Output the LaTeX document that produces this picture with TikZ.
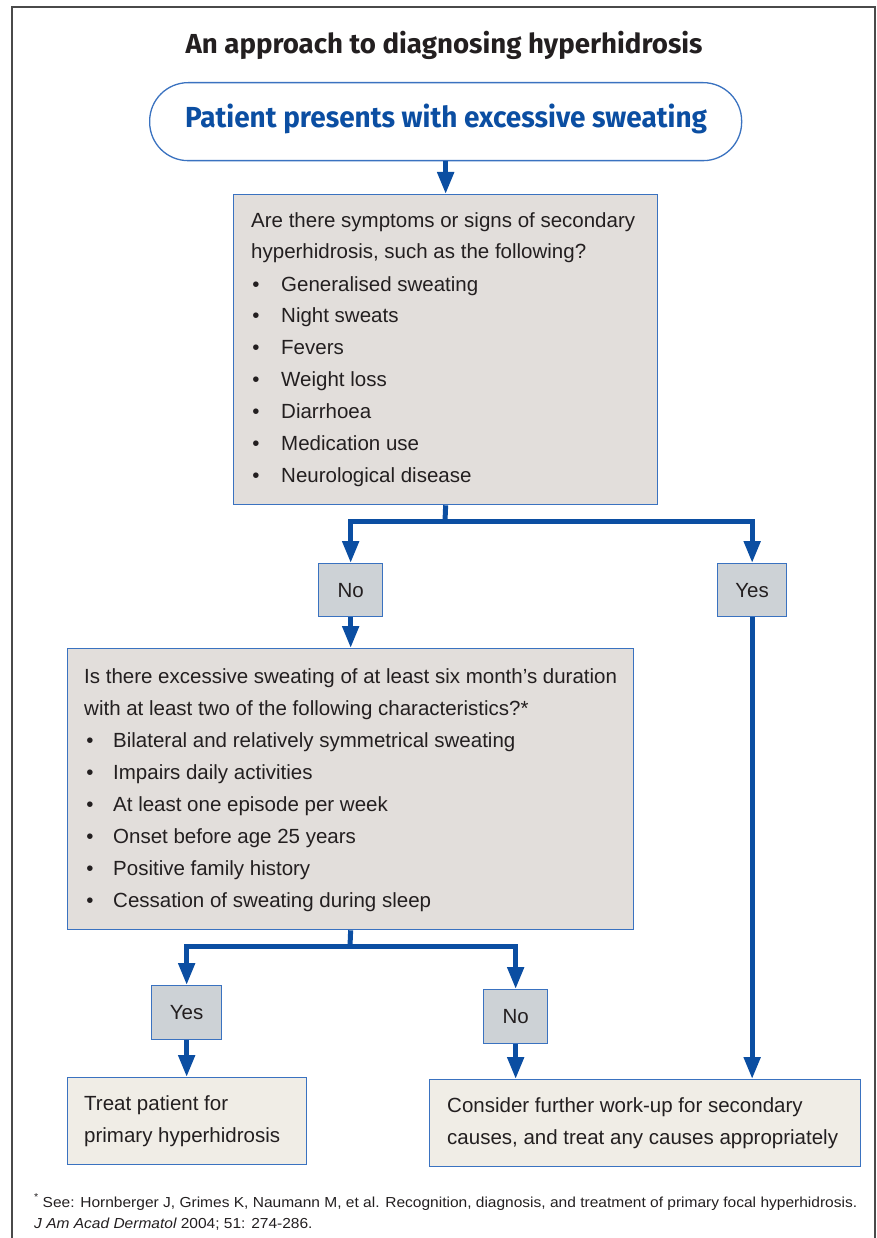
\documentclass[tikz,border=0pt]{standalone}
\usepackage{fontspec}
\setmainfont{Liberation Sans}
\newfontfamily\headfont{Fira Sans}
\usetikzlibrary{arrows.meta}
\definecolor{textcol}{HTML}{231F20}
\definecolor{framecol}{HTML}{4A4A4A}
\definecolor{bordblue}{HTML}{3A72C0}
\definecolor{arrblue}{HTML}{0B4EA2}
\definecolor{boxgray}{HTML}{E2DEDB}
\definecolor{ansgray}{HTML}{CDD2D6}
\definecolor{endcream}{HTML}{F0EDE6}
\newsavebox\fitbox
\newlength\fitlen
\newcommand\fitto[2]{\sbox\fitbox{#2}\setlength\fitlen{\wd\fitbox}\pgfmathsetmacro\fitscale{#1/\fitlen}\global\let\lastfit\fitscale\scalebox{\fitscale}[1]{\usebox\fitbox}}
\tikzset{
  qbox/.style={draw=bordblue, line width=1.3pt, fill=boxgray, anchor=north west, inner sep=0pt},
  ansbox/.style={draw=bordblue, line width=1.3pt, fill=ansgray, anchor=north west, inner sep=0pt, text=textcol, font=\fontsize{20.5}{25}\selectfont},
  endbox/.style={draw=bordblue, line width=1.3pt, fill=endcream, anchor=north west, inner sep=0pt},
  txt/.style={anchor=base west, inner sep=0pt, text=textcol, font=\fontsize{20.5}{25}\selectfont},
  bul/.style={anchor=base, inner sep=0pt, text=textcol, font=\fontsize{20.5}{25}\selectfont},
  arr/.style={draw=arrblue, line width=5pt, -{Triangle[length=22pt,width=16pt]}},
  conn/.style={draw=arrblue, line width=5pt},
  fn/.style={anchor=base west, inner sep=0pt, text=textcol, font=\fontsize{14.5}{17}\selectfont},
}
\begin{document}
\begin{tikzpicture}[x=1pt,y=-1pt]
\useasboundingbox (0,0) rectangle (876,1238);
\draw[framecol, line width=1.6pt] (12,1240) -- (12,7) -- (875,7) -- (875,1240);
% title
\node[anchor=base, inner sep=0pt, text=textcol, font=\headfont\bfseries\fontsize{27.5}{30}\selectfont] (title) at (444,54) {\fitto{517}{An approach to diagnosing hyperhidrosis}};
% start pill
\node[draw=bordblue, line width=1.3pt, fill=white, rounded corners=38.5pt, minimum width=592pt, minimum height=78pt, inner sep=0pt, anchor=north west] (start) at (149,82) {};
\node[anchor=base, inner sep=0pt, text=arrblue, font=\headfont\bfseries\fontsize{29}{32}\selectfont] (starttxt) at (446,128) {\fitto{522}{Patient presents with excessive sweating}};
% question 1
\node[qbox, minimum width=424pt, minimum height=310pt] (q1) at (233,194) {};
\node[txt] (q1a) at (251,228) {Are there symptoms or signs of secondary};
\node[txt] (q1b) at (251,259) {hyperhidrosis, such as the following?};
\foreach \t [count=\i] in {Generalised sweating, Night sweats, Fevers, Weight loss, Diarrhoea, Medication use, Neurological disease}{
  \node[bul] (q1d\i) at (256,{291+31.9*(\i-1)}) {•};
  \node[txt] (q1i\i) at (281,{291+31.9*(\i-1)}) {\t};
}
% answers 1
\node[ansbox, minimum width=64pt, minimum height=53pt] (no1) at (318,563) {No};
\node[ansbox, minimum width=69pt, minimum height=53pt] (yes1) at (717,563) {Yes};
% question 2
\node[qbox, minimum width=566pt, minimum height=281pt] (q2) at (67,648) {};
\node[txt] (q2a) at (84,683) {Is there excessive sweating of at least six month’s duration};
\node[txt] (q2b) at (84,715) {with at least two of the following characteristics?*};
\foreach \t [count=\i] in {Bilateral and relatively symmetrical sweating, Impairs daily activities, At least one episode per week, Onset before age 25 years, Positive family history, Cessation of sweating during sleep}{
  \node[bul] (q2d\i) at (90,{747+32*(\i-1)}) {•};
  \node[txt] (q2i\i) at (113,{747+32*(\i-1)}) {\t};
}
% answers 2
\node[ansbox, minimum width=70pt, minimum height=54pt] (yes2) at (151,985) {Yes};
\node[ansbox, minimum width=64pt, minimum height=54pt] (no2) at (483,989) {No};
% outcomes
\node[endbox, minimum width=239pt, minimum height=87pt] (treat) at (67,1077) {};
\node[txt] (treata) at (84,1110) {Treat patient for};
\node[txt] (treatb) at (84,1142) {primary hyperhidrosis};
\node[endbox, minimum width=431pt, minimum height=87pt] (work) at (429,1079) {};
\node[txt] (worka) at (447,1112) {Consider further work-up for secondary};
\node[txt] (workb) at (447,1144) {causes, and treat any causes appropriately};
% connectors
\draw[arr] (start.south) -- (q1.north);
\coordinate (j1) at (445,521);
\draw[conn] (q1.south) -- (j1);
\draw[arr] (j1) -| (no1.north);
\draw[arr] (j1) -| (yes1.north);
\draw[arr] (no1.south) -- (no1.south |- q2.north);
\coordinate (j2) at (350,946);
\draw[conn] (q2.south) -- (j2);
\draw[arr] (j2) -| (yes2.north);
\draw[arr] (j2) -| (no2.north);
\draw[arr] (yes2.south) -- (yes2.south |- treat.north);
\draw[arr] (no2.south) -- (no2.south |- work.north);
\draw[arr] (yes1.south) -- (yes1.south |- work.north);
% footnote
\node[fn] (fn1) at (34,1207) {\fitto{823}{\raisebox{0.45em}{\fontsize{10}{12}\selectfont *} See: Hornberger J, Grimes K, Naumann M, et al. Recognition, diagnosis, and treatment of primary focal hyperhidrosis.}};
\node[fn] (fn2) at (34,1228) {\scalebox{\lastfit}[1]{\itshape J Am Acad Dermatol\upshape{} 2004; 51: 274-286.}};
\end{tikzpicture}
\end{document}
